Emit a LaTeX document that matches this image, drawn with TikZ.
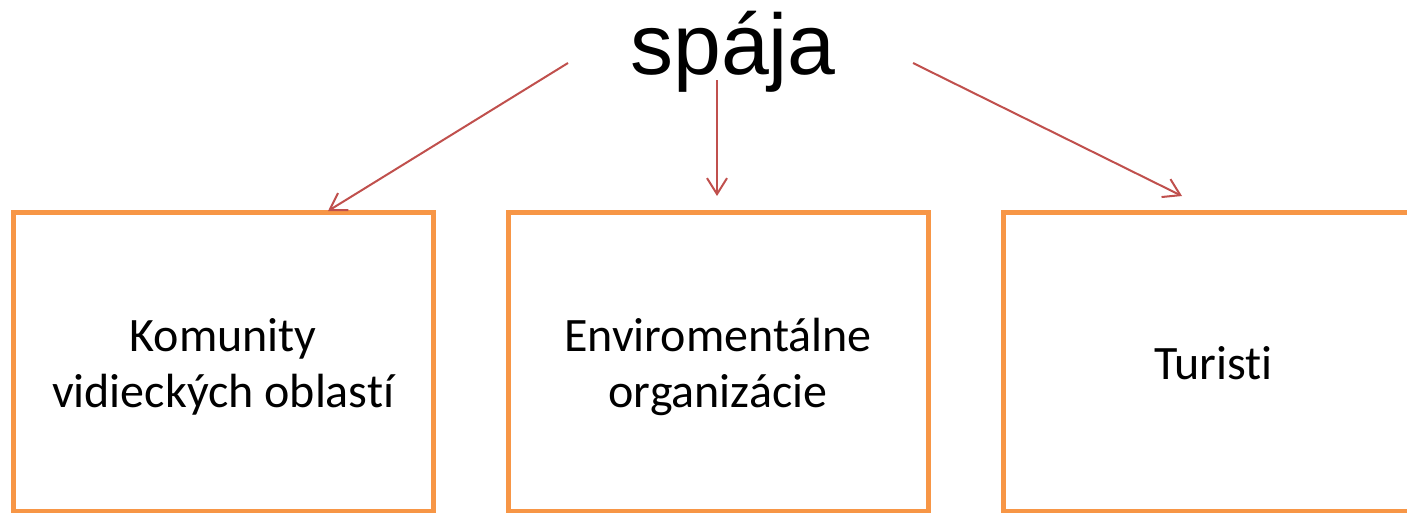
\documentclass[tikz,border=0pt]{standalone}
\usepackage{fontspec}
\setmainfont[Ligatures={NoCommon}]{Carlito}
\newfontfamily\arialf{Liberation Sans}
\usetikzlibrary{arrows.meta}
\definecolor{boxorange}{HTML}{F79646}
\definecolor{arrowred}{HTML}{C0504D}
\begin{document}
\begin{tikzpicture}[x=1pt,y=-1pt,
  stakebox/.style={draw=boxorange, line width=5pt, minimum width=420pt, minimum height=299pt, inner sep=0pt},
  boxlabel/.style={inner sep=0pt, align=center, font=\fontsize{48}{56}\selectfont},
  link/.style={draw=arrowred, line width=2pt, -{Straight Barb[length=16pt,width=20pt]}},
  titletext/.style={font=\arialf\fontsize{86}{100}\selectfont, anchor=base, inner sep=0pt}]
\useasboundingbox (0,0) rectangle (1407,512);
\clip (0,0) rectangle (1407,512);
\node[titletext] (t) at (733,74) {spája};
\node[stakebox] (b1) at (223.25,361.5) {};
\node[stakebox] (b2) at (718,361.5) {};
\node[stakebox] (b3) at (1213.5,361.5) {};
\node[boxlabel] (l1) at (223.25,367) {Komunity\\vidieckých oblastí};
\node[boxlabel] (l2) at (718,367) {Enviromentálne\\organizácie};
\node[boxlabel] (l3) at (1213.5,363) {Turisti};
\coordinate (s1) at (568,63);
\coordinate (s2) at (717,80);
\coordinate (s3) at (913,63);
\coordinate (e1) at (328,211);
\coordinate (e2) at (717,196);
\coordinate (e3) at (1182,196);
\draw[link] (s1) -- (e1);
\draw[link] (s2) -- (e2);
\draw[link] (s3) -- (e3);
\end{tikzpicture}
\end{document}
